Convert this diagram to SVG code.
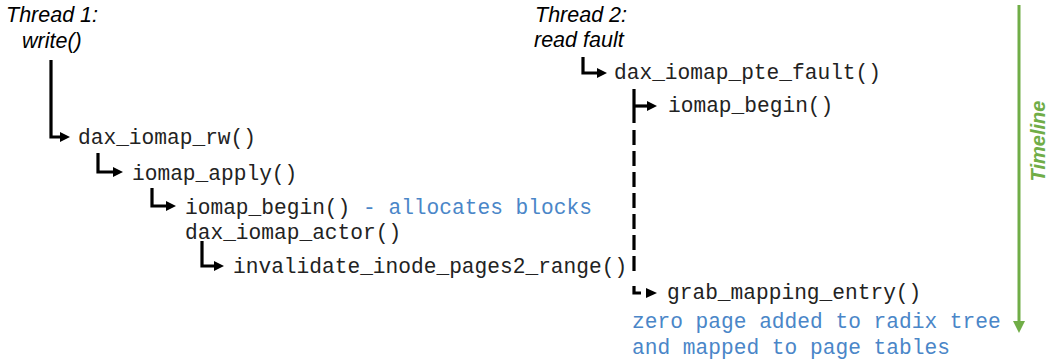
<svg xmlns="http://www.w3.org/2000/svg" width="1052" height="362" viewBox="0 0 1052 362">
<style>
.thr{font-family:"Liberation Sans",Arial,sans-serif;font-style:italic;font-size:21.5px;fill:#000}
.code{font-family:"Liberation Mono","Courier New",monospace;font-size:21.2px;fill:#222}
.note{fill:#4a86c8}
.ln{fill:none;stroke:#000;stroke-width:3.2;stroke-linejoin:miter}
.tl{font-family:"Liberation Sans",Arial,sans-serif;font-style:italic;font-weight:bold;font-size:20px;fill:#70ad47}
</style>
<defs>
<marker id="ah" viewBox="0 0 10 10" markerUnits="userSpaceOnUse" markerWidth="10" markerHeight="10" refX="0" refY="5" orient="auto">
<path d="M0,0 L10,5 L0,10 z" fill="#000"/>
</marker>
</defs>
<rect width="1052" height="362" fill="#fff"/>

<g id="thread1">
<text class="thr" x="6" y="22">Thread 1:</text>
<text class="thr" x="22" y="48">write()</text>
</g>
<g id="thread2">
<text class="thr" x="535" y="22">Thread 2:</text>
<text class="thr" x="534" y="47">read fault</text>
</g>

<g id="n-dax-iomap-rw"><text class="code" x="78" y="144">dax_iomap_rw()</text></g>
<g id="n-iomap-apply"><text class="code" x="132" y="180">iomap_apply()</text></g>
<g id="n-iomap-begin-1"><text class="code" x="185" y="214">iomap_begin() <tspan class="note">- allocates blocks</tspan></text></g>
<g id="n-dax-iomap-actor"><text class="code" x="185" y="239">dax_iomap_actor()</text></g>
<g id="n-invalidate"><text class="code" x="233" y="273">invalidate_inode_pages2_range()</text></g>

<g id="n-dax-iomap-pte-fault"><text class="code" x="614" y="79">dax_iomap_pte_fault()</text></g>
<g id="n-iomap-begin-2"><text class="code" x="668" y="112">iomap_begin()</text></g>
<g id="n-grab-mapping-entry"><text class="code" x="667" y="299">grab_mapping_entry()</text></g>
<g id="n-zero-page">
<text class="code note" x="632" y="328">zero page added to radix tree</text>
<text class="code note" x="632" y="354">and mapped to page tables</text>
</g>

<g id="connectors">
<path class="ln" d="M51 60 V137 H60" marker-end="url(#ah)"/>
<path class="ln" d="M98 153 V172 H113" marker-end="url(#ah)"/>
<path class="ln" d="M152 188 V206 H166" marker-end="url(#ah)"/>
<path class="ln" d="M202 241 V266 H214" marker-end="url(#ah)"/>
<path class="ln" d="M583 57 V73 H597" marker-end="url(#ah)"/>
<path class="ln" d="M634 89 V123"/>
<path class="ln" d="M634 106 H647" marker-end="url(#ah)"/>
<path class="ln" d="M634 130 V277" stroke-dasharray="15 6"/>
<path class="ln" d="M634 286 V293 H641"/>
<polygon points="646,288 657,293 646,298" fill="#000"/>
</g>

<g id="timeline">
<path d="M1019 5 V322" stroke="#70ad47" stroke-width="3" fill="none"/>
<polygon points="1013,321 1025,321 1019,333" fill="#70ad47"/>
<text class="tl" transform="translate(1045,141) rotate(-90)" text-anchor="middle">Timeline</text>
</g>
</svg>
